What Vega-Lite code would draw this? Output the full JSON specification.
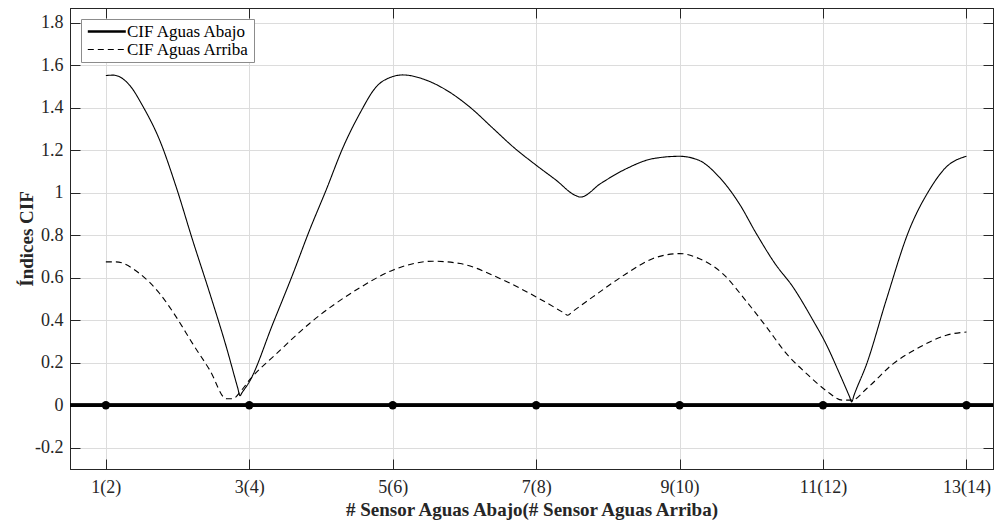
{
  "$schema": "https://vega.github.io/schema/vega-lite/v6.json",
  "width": 923,
  "height": 461,
  "autosize": {"type": "none"},
  "padding": {"left": 70, "top": 8, "right": 2, "bottom": 52},
  "background": "white",
  "config": {
    "font": "Liberation Serif",
    "view": {"stroke": "black", "strokeWidth": 1},
    "axis": {
      "labelFont": "Liberation Serif",
      "labelFontSize": 18,
      "labelColor": "#262626",
      "titleFont": "Liberation Serif",
      "titleFontSize": 19,
      "titleFontWeight": "bold",
      "titleColor": "#262626",
      "tickColor": "#262626",
      "domainColor": "#262626",
      "gridColor": "#dcdcdc",
      "gridWidth": 1,
      "tickSize": -10,
      "tickWidth": 1,
      "domainWidth": 1
    }
  },
  "datasets": {
    "curves": [
      {"serie": "CIF Aguas Abajo", "x": 1.0, "y": 1.552},
      {"serie": "CIF Aguas Abajo", "x": 1.1, "y": 1.554},
      {"serie": "CIF Aguas Abajo", "x": 1.33, "y": 1.507},
      {"serie": "CIF Aguas Abajo", "x": 1.52, "y": 1.405},
      {"serie": "CIF Aguas Abajo", "x": 1.75, "y": 1.248},
      {"serie": "CIF Aguas Abajo", "x": 1.98, "y": 1.028},
      {"serie": "CIF Aguas Abajo", "x": 2.21, "y": 0.777},
      {"serie": "CIF Aguas Abajo", "x": 2.45, "y": 0.526},
      {"serie": "CIF Aguas Abajo", "x": 2.68, "y": 0.274},
      {"serie": "CIF Aguas Abajo", "x": 2.84, "y": 0.08},
      {"serie": "CIF Aguas Abajo", "x": 2.87, "y": 0.045},
      {"serie": "CIF Aguas Abajo", "x": 2.9, "y": 0.06},
      {"serie": "CIF Aguas Abajo", "x": 3.0, "y": 0.11},
      {"serie": "CIF Aguas Abajo", "x": 3.33, "y": 0.385},
      {"serie": "CIF Aguas Abajo", "x": 3.61, "y": 0.62},
      {"serie": "CIF Aguas Abajo", "x": 3.84, "y": 0.824},
      {"serie": "CIF Aguas Abajo", "x": 4.07, "y": 1.012},
      {"serie": "CIF Aguas Abajo", "x": 4.31, "y": 1.216},
      {"serie": "CIF Aguas Abajo", "x": 4.54, "y": 1.373},
      {"serie": "CIF Aguas Abajo", "x": 4.77, "y": 1.499},
      {"serie": "CIF Aguas Abajo", "x": 4.99, "y": 1.546},
      {"serie": "CIF Aguas Abajo", "x": 5.14, "y": 1.555},
      {"serie": "CIF Aguas Abajo", "x": 5.47, "y": 1.53},
      {"serie": "CIF Aguas Abajo", "x": 5.75, "y": 1.483},
      {"serie": "CIF Aguas Abajo", "x": 6.07, "y": 1.405},
      {"serie": "CIF Aguas Abajo", "x": 6.4, "y": 1.303},
      {"serie": "CIF Aguas Abajo", "x": 6.68, "y": 1.216},
      {"serie": "CIF Aguas Abajo", "x": 7.0, "y": 1.13},
      {"serie": "CIF Aguas Abajo", "x": 7.28, "y": 1.059},
      {"serie": "CIF Aguas Abajo", "x": 7.54, "y": 0.989},
      {"serie": "CIF Aguas Abajo", "x": 7.62, "y": 0.98},
      {"serie": "CIF Aguas Abajo", "x": 7.9, "y": 1.044},
      {"serie": "CIF Aguas Abajo", "x": 8.26, "y": 1.114},
      {"serie": "CIF Aguas Abajo", "x": 8.63, "y": 1.161},
      {"serie": "CIF Aguas Abajo", "x": 9.0, "y": 1.172},
      {"serie": "CIF Aguas Abajo", "x": 9.27, "y": 1.153},
      {"serie": "CIF Aguas Abajo", "x": 9.55, "y": 1.075},
      {"serie": "CIF Aguas Abajo", "x": 9.83, "y": 0.95},
      {"serie": "CIF Aguas Abajo", "x": 10.07, "y": 0.808},
      {"serie": "CIF Aguas Abajo", "x": 10.33, "y": 0.667},
      {"serie": "CIF Aguas Abajo", "x": 10.58, "y": 0.557},
      {"serie": "CIF Aguas Abajo", "x": 10.86, "y": 0.4},
      {"serie": "CIF Aguas Abajo", "x": 11.04, "y": 0.29},
      {"serie": "CIF Aguas Abajo", "x": 11.23, "y": 0.149},
      {"serie": "CIF Aguas Abajo", "x": 11.37, "y": 0.04},
      {"serie": "CIF Aguas Abajo", "x": 11.4, "y": 0.016},
      {"serie": "CIF Aguas Abajo", "x": 11.43, "y": 0.045},
      {"serie": "CIF Aguas Abajo", "x": 11.61, "y": 0.196},
      {"serie": "CIF Aguas Abajo", "x": 11.88, "y": 0.494},
      {"serie": "CIF Aguas Abajo", "x": 12.2, "y": 0.824},
      {"serie": "CIF Aguas Abajo", "x": 12.48, "y": 1.012},
      {"serie": "CIF Aguas Abajo", "x": 12.72, "y": 1.122},
      {"serie": "CIF Aguas Abajo", "x": 13.0, "y": 1.172},
      {"serie": "CIF Aguas Arriba", "x": 1.0, "y": 0.675},
      {"serie": "CIF Aguas Arriba", "x": 1.14, "y": 0.675},
      {"serie": "CIF Aguas Arriba", "x": 1.47, "y": 0.62},
      {"serie": "CIF Aguas Arriba", "x": 1.75, "y": 0.526},
      {"serie": "CIF Aguas Arriba", "x": 1.98, "y": 0.416},
      {"serie": "CIF Aguas Arriba", "x": 2.21, "y": 0.29},
      {"serie": "CIF Aguas Arriba", "x": 2.45, "y": 0.165},
      {"serie": "CIF Aguas Arriba", "x": 2.68, "y": 0.031},
      {"serie": "CIF Aguas Arriba", "x": 2.77, "y": 0.031},
      {"serie": "CIF Aguas Arriba", "x": 2.89, "y": 0.07},
      {"serie": "CIF Aguas Arriba", "x": 3.0, "y": 0.118},
      {"serie": "CIF Aguas Arriba", "x": 3.38, "y": 0.243},
      {"serie": "CIF Aguas Arriba", "x": 3.84, "y": 0.385},
      {"serie": "CIF Aguas Arriba", "x": 4.54, "y": 0.553},
      {"serie": "CIF Aguas Arriba", "x": 5.0, "y": 0.636},
      {"serie": "CIF Aguas Arriba", "x": 5.56, "y": 0.678},
      {"serie": "CIF Aguas Arriba", "x": 5.94, "y": 0.667},
      {"serie": "CIF Aguas Arriba", "x": 6.5, "y": 0.596},
      {"serie": "CIF Aguas Arriba", "x": 7.0, "y": 0.51},
      {"serie": "CIF Aguas Arriba", "x": 7.38, "y": 0.436},
      {"serie": "CIF Aguas Arriba", "x": 7.44, "y": 0.424},
      {"serie": "CIF Aguas Arriba", "x": 7.5, "y": 0.439},
      {"serie": "CIF Aguas Arriba", "x": 7.79, "y": 0.51},
      {"serie": "CIF Aguas Arriba", "x": 8.26, "y": 0.62},
      {"serie": "CIF Aguas Arriba", "x": 8.63, "y": 0.691},
      {"serie": "CIF Aguas Arriba", "x": 9.0, "y": 0.714},
      {"serie": "CIF Aguas Arriba", "x": 9.27, "y": 0.691},
      {"serie": "CIF Aguas Arriba", "x": 9.6, "y": 0.62},
      {"serie": "CIF Aguas Arriba", "x": 9.92, "y": 0.494},
      {"serie": "CIF Aguas Arriba", "x": 10.21, "y": 0.369},
      {"serie": "CIF Aguas Arriba", "x": 10.49, "y": 0.243},
      {"serie": "CIF Aguas Arriba", "x": 10.77, "y": 0.149},
      {"serie": "CIF Aguas Arriba", "x": 11.04, "y": 0.07},
      {"serie": "CIF Aguas Arriba", "x": 11.27, "y": 0.024},
      {"serie": "CIF Aguas Arriba", "x": 11.4, "y": 0.024},
      {"serie": "CIF Aguas Arriba", "x": 11.61, "y": 0.079},
      {"serie": "CIF Aguas Arriba", "x": 11.98, "y": 0.196},
      {"serie": "CIF Aguas Arriba", "x": 12.35, "y": 0.274},
      {"serie": "CIF Aguas Arriba", "x": 12.72, "y": 0.33},
      {"serie": "CIF Aguas Arriba", "x": 13.0, "y": 0.345}
    ],
    "sensors": [
      {"x": 1, "y": 0},
      {"x": 3, "y": 0},
      {"x": 5, "y": 0},
      {"x": 7, "y": 0},
      {"x": 9, "y": 0},
      {"x": 11, "y": 0},
      {"x": 13, "y": 0}
    ]
  },
  "layer": [
    {
      "data": {"name": "curves"},
      "mark": {"type": "line", "interpolate": "monotone", "color": "black", "strokeWidth": 1.1},
      "encoding": {
        "x": {
          "field": "x", "type": "quantitative",
          "scale": {"domain": [0.5, 13.37], "nice": false, "zero": false},
          "axis": {
            "orient": "bottom",
            "values": [1, 3, 5, 7, 9, 11, 13],
            "labelExpr": "datum.value + '(' + (datum.value + 1) + ')'",
            "title": "# Sensor Aguas Abajo(# Sensor Aguas Arriba)",
            "grid": true,
            "labelPadding": 19,
            "titlePadding": 4,
            "labelFlush": false
          }
        },
        "y": {
          "field": "y", "type": "quantitative",
          "scale": {"domain": [-0.3, 1.87], "nice": false, "zero": false},
          "axis": {
            "orient": "left",
            "values": [-0.2, 0, 0.2, 0.4, 0.6, 0.8, 1, 1.2, 1.4, 1.6, 1.8],
            "labelExpr": "toString(round(datum.value * 10) / 10)",
            "title": "Índices CIF",
            "grid": true,
            "labelPadding": 17,
            "titlePadding": -2,
            "labelFlush": false
          }
        },
        "strokeDash": {
          "field": "serie", "type": "nominal",
          "scale": {"domain": ["CIF Aguas Abajo", "CIF Aguas Arriba"], "range": [[1, 0], [6, 4]]},
          "legend": {
            "title": null,
            "orient": "top-left",
            "offset": 11,
            "fillColor": "white",
            "strokeColor": "#8c8c8c",
            "padding": 4,
            "rowPadding": 0,
            "symbolType": "M-0.6,0H3.4",
            "symbolSize": 361,
            "symbolStrokeColor": "black",
            "symbolStrokeWidth": 1,
            "symbolFillColor": "transparent",
            "labelFont": "Liberation Serif",
            "labelFontSize": 17,
            "labelColor": "black",
            "labelOffset": 25,
            "encode": {
              "symbols": {
                "update": {
                  "strokeWidth": {"signal": "datum.value === 'CIF Aguas Abajo' ? 2.5 : 1"}
                }
              }
            }
          }
        }
      }
    },
    {
      "data": {"name": "sensors"},
      "mark": {"type": "rule", "color": "black", "strokeWidth": 3},
      "encoding": {
        "y": {"datum": 0, "type": "quantitative", "axis": null,
              "scale": {"domain": [-0.3, 1.87], "nice": false, "zero": false}}
      }
    },
    {
      "data": {"name": "sensors"},
      "mark": {"type": "point", "filled": true, "color": "black", "size": 70, "opacity": 1},
      "encoding": {
        "x": {
          "field": "x", "type": "quantitative",
          "scale": {"domain": [0.5, 13.37], "nice": false, "zero": false},
          "axis": {
            "orient": "top",
            "values": [1, 3, 5, 7, 9, 11, 13],
            "labels": false,
            "title": null,
            "grid": false
          }
        },
        "y": {
          "field": "y", "type": "quantitative",
          "scale": {"domain": [-0.3, 1.87], "nice": false, "zero": false},
          "axis": {
            "orient": "right",
            "values": [-0.2, 0, 0.2, 0.4, 0.6, 0.8, 1, 1.2, 1.4, 1.6, 1.8],
            "labels": false,
            "title": null,
            "grid": false
          }
        }
      }
    }
  ],
  "resolve": {"axis": {"x": "independent", "y": "independent"}}
}
